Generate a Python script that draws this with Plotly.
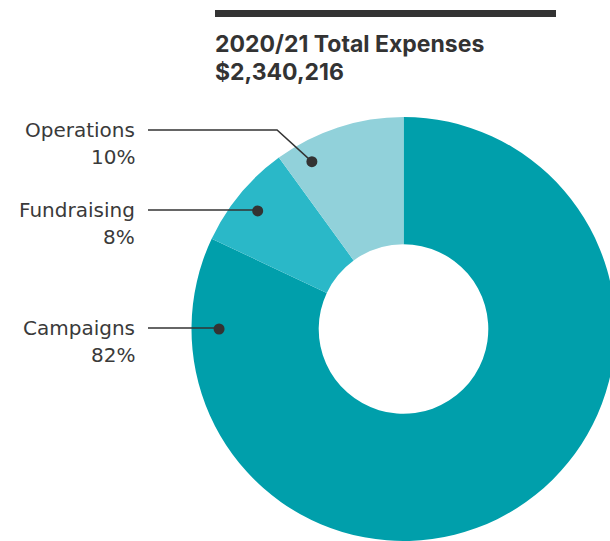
import math
import plotly.graph_objects as go

# ---- data ----
categories = ["Campaigns", "Fundraising", "Operations"]
shares = [82, 8, 10]
colors = ["#009FAB", "#2AB8C8", "#91D1DA"]
title_line1 = "2020/21 Total Expenses"
title_line2 = "$2,340,216"

# ---- layout constants (pixels) ----
W, H = 616, 541          # slightly wider than the window so the donut is clipped at the right
dom_x = [191 / W, 1.0]
dom_y = [0.0, 1 - 117 / H]
hole = 0.40

# label styling: anchor angle (deg, counter-clockwise from 12 o'clock), radius fraction, label row y (px)
label_angle = [90, 51, 28.7]
label_rfrac = [0.87, 0.885, 0.90]
label_row_y = [328, 210, 130]
text_right_x = 137
line_start_x = 148

fig = go.Figure(go.Pie(
    labels=categories, values=shares, sort=False, direction="clockwise",
    rotation=0, hole=hole, marker=dict(colors=colors, line=dict(width=0)),
    textinfo="none", hoverinfo="label+percent", showlegend=False,
    domain=dict(x=dom_x, y=dom_y),
))

# pie geometry in pixels (as plotly computes it)
dw = (dom_x[1] - dom_x[0]) * W
dh = (dom_y[1] - dom_y[0]) * H
cx = (dom_x[0] + dom_x[1]) / 2 * W
cy = (1 - (dom_y[0] + dom_y[1]) / 2) * H
R = min(dw, dh) / 2

def px(x):
    return x / W

def py(y):
    return 1 - y / H

shapes = []
annotations = []
ink = "#333333"
label_font = dict(family="DejaVu Sans", size=20, color="#3a3a3a")
for name, val, ang, rf, ry in zip(categories, shares, label_angle, label_rfrac, label_row_y):
    a = math.radians(ang)
    dx = cx - math.sin(a) * R * rf
    dy = cy - math.cos(a) * R * rf
    if abs(dy - ry) < 2:
        pts = [(line_start_x, ry), (dx, ry)]
    else:
        elbow_x = dx - abs(dy - ry) * 1.1
        pts = [(line_start_x, ry), (elbow_x, ry), (dx, dy)]
    path = "M " + " L ".join(f"{px(x):.5f},{py(y):.5f}" for x, y in pts)
    shapes.append(dict(type="path", xref="paper", yref="paper", path=path,
                       line=dict(color=ink, width=1.5)))
    r = 5.5
    shapes.append(dict(type="circle", xref="paper", yref="paper",
                       x0=px(dx - r), x1=px(dx + r), y0=py(dy + r), y1=py(dy - r),
                       fillcolor=ink, line=dict(width=0)))
    annotations.append(dict(text=name, x=px(text_right_x), y=py(ry), xref="paper", yref="paper",
                            xanchor="right", yanchor="middle", showarrow=False, font=label_font))
    annotations.append(dict(text=f"{val}%", x=px(text_right_x), y=py(ry + 27), xref="paper", yref="paper",
                            xanchor="right", yanchor="middle", showarrow=False, font=label_font))

# title bar
shapes.append(dict(type="rect", xref="paper", yref="paper",
                   x0=px(215), x1=px(556), y0=py(17), y1=py(10),
                   fillcolor="#333333", line=dict(width=0)))
title_font = dict(family="Inter", size=23, color="#333333", weight=800)
annotations.append(dict(text=f"<b>{title_line1}</b>", x=px(213), y=py(44), xref="paper", yref="paper",
                        xanchor="left", yanchor="middle", showarrow=False, font=title_font))
annotations.append(dict(text=f"<b>{title_line2}</b>", x=px(213), y=py(72), xref="paper", yref="paper",
                        xanchor="left", yanchor="middle", showarrow=False, font=title_font))

fig.update_layout(width=W, height=H, margin=dict(l=0, r=0, t=0, b=0),
                  paper_bgcolor="white", plot_bgcolor="white",
                  shapes=shapes, annotations=annotations)

fig.write_html("out.html", config={"displayModeBar": False},
               post_script="document.body.style.margin='0';document.body.style.overflow='hidden';")
